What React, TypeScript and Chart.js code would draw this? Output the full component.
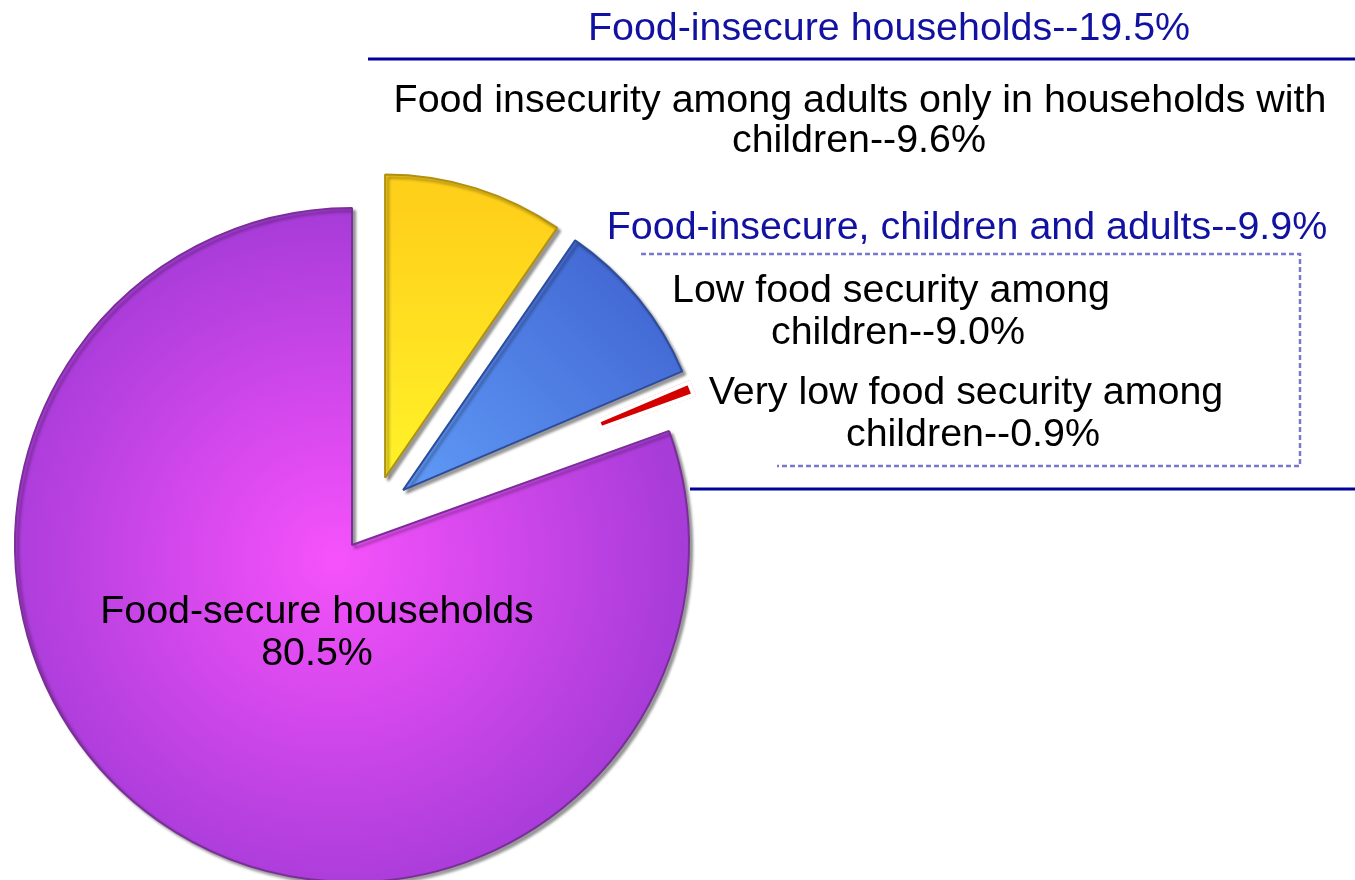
import React, { useEffect, useRef } from "react";
import { Chart, registerables } from "chart.js";

Chart.register(...registerables);

// ---------- data ----------
const sliceLabels = [
  "Food insecurity among adults only in households with children",
  "Low food security among children",
  "Very low food security among children",
  "Food-secure households",
];
const sliceValues = [9.6, 9.0, 0.9, 80.5];
const explodedSlices = [true, true, true, false];
const groupInsecureLabel = "Food-insecure households";
const groupChildrenLabel = "Food-insecure, children and adults";
const groupChildrenMembers = [false, true, true, false];

// ---------- style ----------
const FONT = "'Liberation Sans', Arial, Helvetica, sans-serif";
const BLUE_TEXT = "#1212a2";
const LINE_BLUE = "#00009c";
const DASH = "#7878cc";
const sliceBorders = ["#b0900c", "#2d4c9c", "#ffffff", "#7a2e98"];
const sliceBorderWidths = [2, 2, 4, 2];
const sliceBorderAlign = ["center", "center", "inner", "center"];
const sliceShadow = [true, true, false, true];
const sliceInnerFrac = [0, 0, 0.66, 0];
const EXPLODE_DIST = 75;
const EXPLODE_SPREAD = 0.5;
const EXPLODE_SCALE = 0.9;

const fmt = (v: number) => `${v.toFixed(1)}%`;
const sum = (arr: number[], mask: boolean[]) =>
  arr.reduce((s, v, i) => (mask[i] ? s + v : s), 0);

function sliceFill(c: any) {
  const i = c.dataIndex;
  const chart = c.chart;
  const a = chart.chartArea;
  const base = ["#ffe020", "#4f80e4", "#d40000", "#cc48e8"];
  if (!a) return base[i];
  const cx = (a.left + a.right) / 2;
  const cy = (a.top + a.bottom) / 2;
  const R = Math.min(a.right - a.left, a.bottom - a.top) / 2;
  const g = chart.ctx;
  if (i === 3) {
    const gr = g.createRadialGradient(cx - 0.05 * R, cy + 0.04 * R, 0, cx - 0.05 * R, cy + 0.04 * R, R * 1.02);
    gr.addColorStop(0, "#f652fb");
    gr.addColorStop(0.45, "#d448ec");
    gr.addColorStop(1, "#a83cd9");
    return gr;
  }
  if (i === 0) {
    const gr = g.createLinearGradient(0, cy - R, 0, cy - 0.15 * R);
    gr.addColorStop(0, "#ffd01a");
    gr.addColorStop(1, "#fff52a");
    return gr;
  }
  if (i === 1) {
    const gr = g.createLinearGradient(cx + 0.9 * R, cy - 0.9 * R, cx + 0.1 * R, cy - 0.1 * R);
    gr.addColorStop(0, "#3f62cf");
    gr.addColorStop(1, "#629ffa");
    return gr;
  }
  return base[i];
}

const explodePlugin = {
  id: "explodeGroup",
  afterDatasetUpdate(chart: any, args: any) {
    const arcs = args.meta.data;
    const a = chart.chartArea;
    const R = Math.min(a.right - a.left, a.bottom - a.top) / 2;
    let gStart = Infinity;
    let gEnd = -Infinity;
    arcs.forEach((arc: any, i: number) => {
      if (explodedSlices[i]) {
        gStart = Math.min(gStart, arc.startAngle);
        gEnd = Math.max(gEnd, arc.endAngle);
      }
    });
    const gMid = (gStart + gEnd) / 2;
    arcs.forEach((arc: any, i: number) => {
      arc.outerRadius = R;
      if (!sliceShadow[i] && !arc.__noShadow) {
        const orig = arc.draw;
        arc.draw = function (ctx: CanvasRenderingContext2D) {
          ctx.save();
          ctx.shadowColor = "rgba(0,0,0,0)";
          orig.call(this, ctx);
          ctx.restore();
        };
        arc.__noShadow = true;
      }
      if (!explodedSlices[i]) return;
      const mid = (arc.startAngle + arc.endAngle) / 2;
      const dir = gMid + EXPLODE_SPREAD * (mid - gMid);
      arc.x += EXPLODE_DIST * Math.cos(dir);
      arc.y += EXPLODE_DIST * Math.sin(dir);
      arc.outerRadius = R * EXPLODE_SCALE;
      arc.innerRadius = arc.outerRadius * sliceInnerFrac[i];
    });
  },
};

const shadowPlugin = {
  id: "sliceShadow",
  beforeDatasetDraw(chart: any) {
    const ctx = chart.ctx;
    ctx.save();
    ctx.shadowColor = "rgba(0,0,0,0.38)";
    ctx.shadowBlur = 3;
    ctx.shadowOffsetX = 3;
    ctx.shadowOffsetY = 3;
  },
  afterDatasetDraw(chart: any) {
    chart.ctx.restore();
  },
};

type TextItem = { text: string; x: number; base: number; color: string };

export default function App() {
  const ref = useRef<HTMLCanvasElement>(null);

  useEffect(() => {
    if (!ref.current) return;
    const chart = new Chart(ref.current, {
      type: "pie",
      data: {
        labels: sliceLabels,
        datasets: [
          {
            data: sliceValues,
            backgroundColor: sliceFill as any,
            borderColor: sliceBorders,
            borderWidth: sliceBorderWidths,
            borderAlign: sliceBorderAlign as any,
          },
        ],
      },
      options: {
        responsive: false,
        animation: false,
        events: [],
        layout: { padding: { left: 15, top: 208, right: 666, bottom: 18 } },
        plugins: { legend: { display: false }, tooltip: { enabled: false } },
      },
      plugins: [explodePlugin, shadowPlugin],
    });
    return () => chart.destroy();
  }, []);

  const insecureTotal = sum(sliceValues, explodedSlices);
  const childrenTotal = sum(sliceValues, groupChildrenMembers);

  const texts: TextItem[] = [
    { text: `${groupInsecureLabel}--${fmt(insecureTotal)}`, x: 889, base: 40, color: BLUE_TEXT },
    { text: "Food insecurity among adults only in households with", x: 860, base: 112, color: "#000" },
    { text: `children--${fmt(sliceValues[0])}`, x: 859, base: 152, color: "#000" },
    { text: `${groupChildrenLabel}--${fmt(childrenTotal)}`, x: 967, base: 239, color: BLUE_TEXT },
    { text: "Low food security among", x: 891, base: 302, color: "#000" },
    { text: `children--${fmt(sliceValues[1])}`, x: 898, base: 344, color: "#000" },
    { text: "Very low food security among", x: 966, base: 404, color: "#000" },
    { text: `children--${fmt(sliceValues[2])}`, x: 973, base: 446, color: "#000" },
    { text: sliceLabels[3], x: 317, base: 623, color: "#000" },
    { text: fmt(sliceValues[3]), x: 317, base: 665, color: "#000" },
  ];

  return (
    <div
      style={{
        position: "absolute",
        left: 0,
        top: 0,
        width: 1355,
        height: 880,
        overflow: "hidden",
        background: "#ffffff",
        fontFamily: FONT,
      }}
    >
      <canvas
        ref={ref}
        width={1355}
        height={900}
        style={{ position: "absolute", left: 0, top: 0, width: 1355, height: 900 }}
      />
      <svg width={1355} height={880} style={{ position: "absolute", left: 0, top: 0 }}>
        <line x1={368} y1={59} x2={1355} y2={59} stroke={LINE_BLUE} strokeWidth={3} />
        <line x1={690} y1={489} x2={1355} y2={489} stroke={LINE_BLUE} strokeWidth={3} />
        <polyline
          points="641,254 1300,254 1300,466 777,466"
          fill="none"
          stroke={DASH}
          strokeWidth={2.5}
          strokeDasharray="5 3"
        />
      </svg>
      {texts.map((t, i) => (
        <div
          key={i}
          style={{
            position: "absolute",
            left: t.x,
            top: t.base - 33.7,
            transform: "translateX(-50%)",
            whiteSpace: "nowrap",
            fontSize: 39.4,
            lineHeight: "40px",
            color: t.color,
          }}
        >
          {t.text}
        </div>
      ))}
    </div>
  );
}
